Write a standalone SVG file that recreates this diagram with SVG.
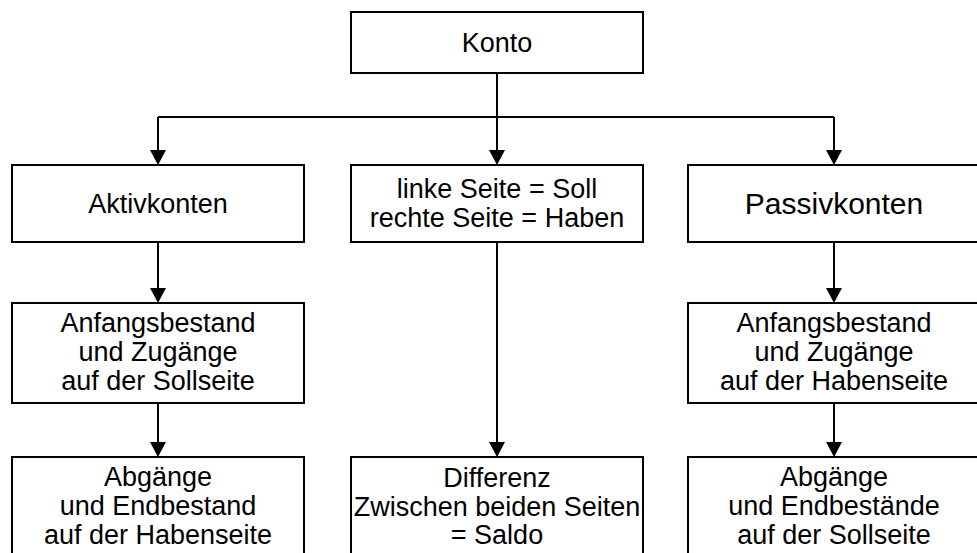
<svg xmlns="http://www.w3.org/2000/svg" width="977" height="553" viewBox="0 0 977 553">
<style>
.box{fill:#fff;stroke:#000;stroke-width:2}
.t{font-family:"Liberation Sans",Arial,sans-serif;font-size:27px;fill:#000;text-anchor:middle}
.big{font-size:30px}
.c{fill:none;stroke:#000;stroke-width:2}
</style>
<defs>
<marker id="ah" markerUnits="userSpaceOnUse" markerWidth="16" markerHeight="16" viewBox="0 0 15 16" refX="0" refY="8" orient="auto">
<path d="M0,0 L15,8 L0,16 z" fill="#000"/>
</marker>
</defs>
<rect width="977" height="553" fill="#fff"/>
<g id="connectors">
<path class="c" d="M497,73 V117 M158,117 H834"/>
<path class="c" d="M158,117 V150" marker-end="url(#ah)"/>
<path class="c" d="M497,117 V150" marker-end="url(#ah)"/>
<path class="c" d="M834,117 V150" marker-end="url(#ah)"/>
<path class="c" d="M158,242 V288" marker-end="url(#ah)"/>
<path class="c" d="M158,403 V442" marker-end="url(#ah)"/>
<path class="c" d="M497,242 V442" marker-end="url(#ah)"/>
<path class="c" d="M834,242 V288" marker-end="url(#ah)"/>
<path class="c" d="M834,403 V442" marker-end="url(#ah)"/>
</g>
<g id="konto">
<rect class="box" x="351" y="12" width="292" height="61"/>
<text class="t" x="497" y="52">Konto</text>
</g>
<g id="aktivkonten">
<rect class="box" x="12" y="165" width="292" height="77"/>
<text class="t" x="158" y="213">Aktivkonten</text>
</g>
<g id="seiten">
<rect class="box" x="351" y="165" width="292" height="77"/>
<text class="t" x="497" y="198">linke Seite = Soll</text>
<text class="t" x="497" y="227">rechte Seite = Haben</text>
</g>
<g id="passivkonten">
<rect class="box" x="688" y="165" width="292" height="77"/>
<text class="t big" x="834" y="214">Passivkonten</text>
</g>
<g id="aktiv-anfang">
<rect class="box" x="12" y="303" width="292" height="100"/>
<text class="t" x="158" y="332">Anfangsbestand</text>
<text class="t" x="158" y="361">und Zugänge</text>
<text class="t" x="158" y="390">auf der Sollseite</text>
</g>
<g id="passiv-anfang">
<rect class="box" x="688" y="303" width="292" height="100"/>
<text class="t" x="834" y="332">Anfangsbestand</text>
<text class="t" x="834" y="361">und Zugänge</text>
<text class="t" x="834" y="390">auf der Habenseite</text>
</g>
<g id="aktiv-abgang">
<rect class="box" x="12" y="457" width="292" height="110"/>
<text class="t" x="158" y="486">Abgänge</text>
<text class="t" x="158" y="515">und Endbestand</text>
<text class="t" x="158" y="544">auf der Habenseite</text>
</g>
<g id="saldo">
<rect class="box" x="351" y="457" width="292" height="110"/>
<text class="t" x="497" y="487">Differenz</text>
<text class="t" x="497" y="516">Zwischen beiden Seiten</text>
<text class="t" x="497" y="544">= Saldo</text>
</g>
<g id="passiv-abgang">
<rect class="box" x="688" y="457" width="292" height="110"/>
<text class="t" x="834" y="486">Abgänge</text>
<text class="t" x="834" y="515">und Endbestände</text>
<text class="t" x="834" y="544">auf der Sollseite</text>
</g>
</svg>
